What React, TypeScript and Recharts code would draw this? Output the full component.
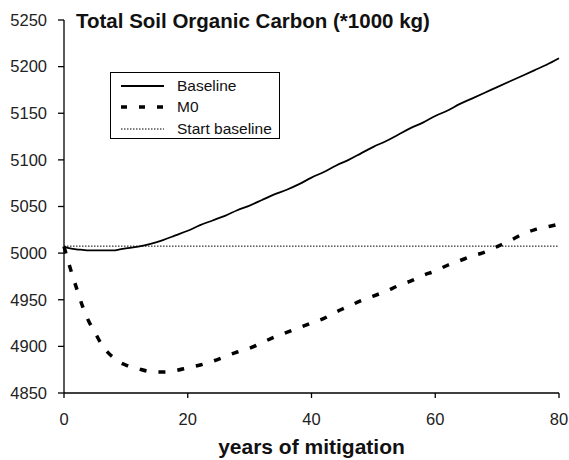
import React from "react";
import {
  LineChart,
  Line,
  XAxis,
  YAxis,
  ReferenceLine,
  Legend,
} from "recharts";

const years = [
  0, 1, 2, 3, 4, 5, 6, 7, 8, 9, 10, 12, 14, 16, 18, 20, 22, 24, 26, 28, 30, 32,
  34, 36, 38, 40, 42, 44, 46, 48, 50, 52, 54, 56, 58, 60, 62, 64, 66, 68, 70,
  72, 74, 76, 78, 80,
];
const baselineValues = [
  5007, 5005, 5004, 5003.5, 5003, 5003, 5003, 5003, 5003, 5004, 5005, 5007,
  5010, 5014, 5019, 5024, 5030, 5035, 5040, 5046, 5051, 5057, 5063, 5068, 5074,
  5081, 5087, 5094, 5100, 5107, 5114, 5120, 5127, 5134, 5140, 5147, 5153, 5160,
  5166, 5172, 5178, 5184, 5190, 5196, 5202, 5209,
];
const m0Values = [
  5007, 4984, 4963, 4943, 4927, 4915, 4903, 4894, 4888, 4883, 4880, 4876, 4873,
  4872.5, 4874, 4877, 4880, 4884, 4889, 4894, 4898, 4904, 4910, 4915, 4920,
  4925, 4930, 4937, 4943, 4949, 4954, 4959, 4965, 4970, 4976, 4981, 4987, 4992,
  4997, 5001, 5007, 5013, 5020, 5025, 5028, 5031,
];
const startBaseline = 5007.5;
const xTicks = [0, 20, 40, 60, 80];
const yTicks = [4850, 4900, 4950, 5000, 5050, 5100, 5150, 5200, 5250];

const data = years.map((year, i) => ({
  year,
  baseline: baselineValues[i],
  m0: m0Values[i],
}));

const font = "'Liberation Sans', Arial, sans-serif";

// legend entries: label + stroke style of the sample line
const legendItems = [
  { label: "Baseline", width: 1.8, dash: undefined },
  { label: "M0", width: 3.5, dash: "6 12" },
  { label: "Start baseline", width: 1, dash: "1.5 1.5" },
];

function LegendBox() {
  return (
    <div
      style={{
        border: "1.3px solid #000",
        background: "#fff",
        width: 170,
        height: 67,
        boxSizing: "border-box",
        fontFamily: font,
        fontSize: 15.5,
        color: "#111",
        paddingTop: 2,
      }}
    >
      {legendItems.map((it) => (
        <div
          key={it.label}
          style={{ display: "flex", alignItems: "center", height: 21.5 }}
        >
          <svg width={66} height={10}>
            <line
              x1={10}
              x2={53}
              y1={5}
              y2={5}
              stroke="#000"
              strokeWidth={it.width}
              strokeDasharray={it.dash}
            />
          </svg>
          <span>{it.label}</span>
        </div>
      ))}
    </div>
  );
}

export default function App() {
  return (
    <div style={{ position: "absolute", left: 0, top: 0, width: 569, height: 460 }}>
      <LineChart
        width={569}
        height={460}
        data={data}
        margin={{ top: 20, right: 10, left: 0, bottom: 0 }}
        style={{ background: "#fff" }}
      >
        <XAxis
          dataKey="year"
          type="number"
          domain={[0, 80]}
          ticks={xTicks}
          height={67}
          tickSize={5}
          tickMargin={15}
          stroke="#000"
          strokeWidth={1.3}
          tick={{ fill: "#222", fontSize: 16.5, fontFamily: font }}
          label={{
            value: "years of mitigation",
            position: "insideBottom",
            offset: 6,
            style: { fill: "#111", fontSize: 21, fontWeight: "bold", fontFamily: font },
          }}
        />
        <YAxis
          type="number"
          domain={[4850, 5250]}
          ticks={yTicks}
          width={64}
          tickSize={6}
          tickMargin={11}
          stroke="#000"
          strokeWidth={1.3}
          tick={{ fill: "#222", fontSize: 16.5, fontFamily: font }}
        />
        <ReferenceLine
          y={startBaseline}
          stroke="#000"
          strokeWidth={1}
          strokeDasharray="1.5 1.5"
        />
        <Line
          dataKey="baseline"
          type="monotone"
          stroke="#000"
          strokeWidth={1.8}
          dot={false}
          isAnimationActive={false}
        />
        <Line
          dataKey="m0"
          type="monotone"
          stroke="#000"
          strokeWidth={3.5}
          strokeDasharray="7 12"
          dot={false}
          isAnimationActive={false}
        />
        <Legend
          layout="vertical"
          align="center"
          verticalAlign="middle"
          content={() => <LegendBox />}
          wrapperStyle={{ left: 110, top: 72, width: 172, height: 69 }}
        />
      </LineChart>
      <div
        style={{
          position: "absolute",
          left: 76,
          top: 8,
          fontFamily: font,
          fontWeight: "bold",
          fontSize: 20.5,
          lineHeight: "26px",
          color: "#111",
          whiteSpace: "nowrap",
        }}
      >
        Total Soil Organic Carbon (*1000 kg)
      </div>
    </div>
  );
}
